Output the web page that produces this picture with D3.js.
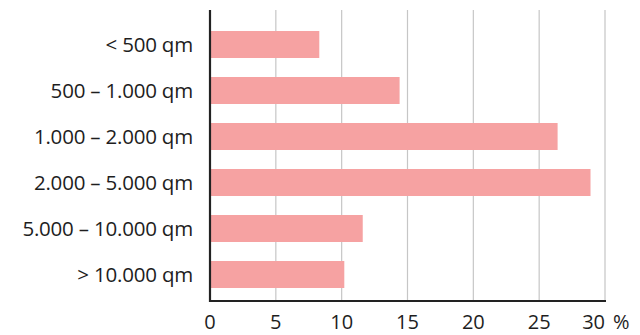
<!DOCTYPE html>
<html>
<head>
  <meta charset="utf-8">
  <script src="https://d3js.org/d3.v7.min.js"></script>
  <style>
    body { margin: 0; background: #fff; }
    svg text { font-family: "Open Sans", sans-serif; fill: #1e1e1e; font-size: 20.5px; font-weight: 500; }
    .tick-label { font-size: 20px; }
  </style>
</head>
<body>
  <svg width="640" height="335"></svg>
  <script>
    const categories = ['< 500 qm', '500 – 1.000 qm', '1.000 – 2.000 qm',
      '2.000 – 5.000 qm', '5.000 – 10.000 qm', '> 10.000 qm'];
    const values = [8.3, 14.4, 26.4, 28.9, 11.6, 10.2];
    const xTicks = [0, 5, 10, 15, 20, 25, 30];

    const svg = d3.select('svg');
    const plotLeft = 210, plotRight = 605, plotTop = 10, plotBottom = 301;

    const x = d3.scaleLinear().domain([0, 30]).range([plotLeft, plotRight]);
    const y = d3.scaleBand().domain(categories)
      .range([21.5, 297.5]).paddingInner(0.413).paddingOuter(0.2065);

    // gridlines
    svg.append('g').selectAll('line').data(xTicks.slice(1))
      .join('line')
      .attr('x1', d => x(d)).attr('x2', d => x(d))
      .attr('y1', plotTop).attr('y2', plotBottom)
      .attr('stroke', d => d === 30 ? '#dcdcdc' : '#c6c6c6')
      .attr('stroke-width', d => d === 30 ? 2 : 1.2);

    // bars
    svg.append('g').selectAll('rect').data(values)
      .join('rect')
      .attr('x', x(0))
      .attr('y', (d, i) => y(categories[i]))
      .attr('width', d => x(d) - x(0))
      .attr('height', y.bandwidth())
      .attr('fill', '#f6a2a2');

    // axis lines
    svg.append('line').attr('x1', plotLeft).attr('x2', plotLeft)
      .attr('y1', plotTop).attr('y2', plotBottom + 1)
      .attr('stroke', '#222').attr('stroke-width', 2.2);
    svg.append('line').attr('x1', plotLeft - 1).attr('x2', plotRight + 1)
      .attr('y1', plotBottom).attr('y2', plotBottom)
      .attr('stroke', '#222').attr('stroke-width', 2.2);

    // category labels
    svg.append('g').selectAll('text').data(categories)
      .join('text')
      .attr('x', 193)
      .attr('y', d => y(d) + y.bandwidth() / 2)
      .attr('dy', '0.36em')
      .attr('text-anchor', 'end')
      .style('letter-spacing', '-0.2px')
      .text(d => d);

    // x tick labels
    svg.append('g').selectAll('text').data(xTicks)
      .join('text')
      .attr('class', 'tick-label')
      .attr('x', d => x(d))
      .attr('y', 329)
      .attr('text-anchor', d => d === 30 ? 'end' : 'middle')
      .text(d => d);
    svg.append('text').attr('class', 'tick-label')
      .attr('x', x(30) + 8).attr('y', 329).text('%');
  </script>
</body>
</html>
